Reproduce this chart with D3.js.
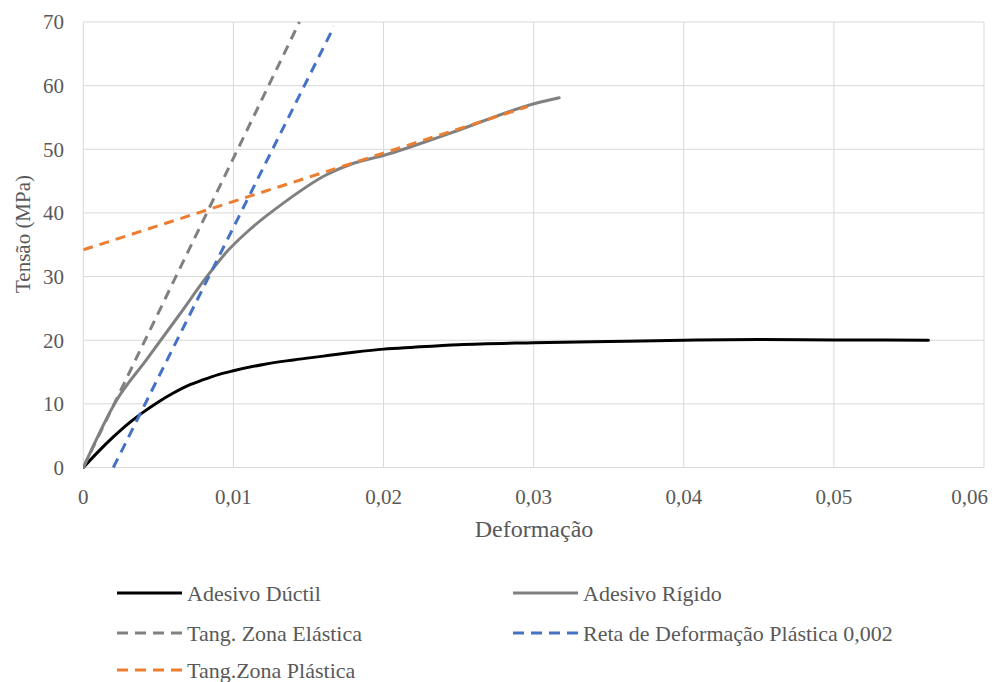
<!DOCTYPE html>
<html>
<head>
<meta charset="utf-8">
<script src="https://cdn.jsdelivr.net/npm/d3@7"></script>
<style>
  body { margin: 0; background: #fff; }
  text { font-family: "Liberation Serif", "Times New Roman", serif; fill: #595959; }
</style>
</head>
<body>
<svg id="chart" width="995" height="682"></svg>
<script>
// strain values (x) and stress values (y, MPa)
const ductileX = [0, 0.001, 0.002, 0.003, 0.004, 0.005, 0.006, 0.007, 0.008, 0.009, 0.010, 0.012, 0.014, 0.016, 0.018, 0.020, 0.022, 0.025, 0.030, 0.035, 0.040, 0.045, 0.050, 0.0563];
const ductileY = [0, 2.5, 4.8, 6.9, 8.7, 10.3, 11.7, 12.9, 13.8, 14.6, 15.2, 16.2, 16.9, 17.5, 18.1, 18.6, 18.9, 19.3, 19.6, 19.8, 20.0, 20.1, 20.05, 20.0];

const rigidX = [0, 0.0022, 0.0042, 0.0064, 0.0082, 0.0096, 0.011, 0.0133, 0.0162, 0.018, 0.0201, 0.0244, 0.0301, 0.0317];
const rigidY = [0, 10.5, 16.9, 24.0, 29.9, 34.0, 37.2, 41.5, 46.0, 47.8, 49.1, 52.5, 57.2, 58.1];

const elasticX = [0, 0.0144];
const elasticY = [0, 70];

const offsetX = [0.002, 0.0167];
const offsetY = [0, 69.3];

const plasticX = [0, 0.0296];
const plasticY = [34.2, 56.7];

const xTicks = [0, 0.01, 0.02, 0.03, 0.04, 0.05, 0.06];
const yTicks = [0, 10, 20, 30, 40, 50, 60, 70];

const series = [
  {name: "Adesivo Dúctil", xs: ductileX, ys: ductileY, color: "#000000", dash: null, smooth: true},
  {name: "Adesivo Rígido", xs: rigidX, ys: rigidY, color: "#808080", dash: null, smooth: true},
  {name: "Tang. Zona Elástica", xs: elasticX, ys: elasticY, color: "#808080", dash: "10,7", smooth: false},
  {name: "Reta de Deformação Plástica 0,002", xs: offsetX, ys: offsetY, color: "#4472c4", dash: "10,7", smooth: false},
  {name: "Tang.Zona Plástica", xs: plasticX, ys: plasticY, color: "#ed7d31", dash: "10,7", smooth: false}
];

const svg = d3.select("#chart");
const plotLeft = 83.3, plotRight = 984, plotTop = 22, plotBottom = 467.5;

const x = d3.scaleLinear().domain([0, 0.06]).range([plotLeft, plotRight]);
const y = d3.scaleLinear().domain([0, 70]).range([plotBottom, plotTop]);
const fmt = d => d3.format(".2~f")(d).replace(".", ",");

// gridlines
svg.append("g")
  .selectAll("line")
  .data(yTicks)
  .join("line")
  .attr("x1", plotLeft).attr("x2", plotRight)
  .attr("y1", d => y(d)).attr("y2", d => y(d))
  .attr("stroke", "#d9d9d9").attr("stroke-width", 1);

svg.append("g")
  .selectAll("line")
  .data(xTicks)
  .join("line")
  .attr("x1", d => x(d)).attr("x2", d => x(d))
  .attr("y1", plotTop).attr("y2", plotBottom)
  .attr("stroke", "#d9d9d9").attr("stroke-width", 1);

// tick labels
svg.append("g")
  .selectAll("text")
  .data(yTicks)
  .join("text")
  .attr("x", 64)
  .attr("y", d => y(d))
  .attr("dy", "0.35em")
  .attr("text-anchor", "end")
  .style("font-size", "21px")
  .text(d => d);

// last label is pushed inside the frame, like the original
svg.append("g")
  .selectAll("text")
  .data(xTicks)
  .join("text")
  .attr("x", (d, i) => i === xTicks.length - 1 ? 988 : x(d))
  .attr("y", 497)
  .attr("dy", "0.35em")
  .attr("text-anchor", (d, i) => i === xTicks.length - 1 ? "end" : "middle")
  .style("font-size", "21px")
  .text(d => fmt(d));

// axis titles
svg.append("text")
  .attr("transform", "translate(23,234) rotate(-90)")
  .attr("dy", "0.35em")
  .attr("text-anchor", "middle")
  .style("font-size", "21px")
  .text("Tensão (MPa)");

svg.append("text")
  .attr("x", 534)
  .attr("y", 529)
  .attr("dy", "0.35em")
  .attr("text-anchor", "middle")
  .style("font-size", "24px")
  .text("Deformação");

// series
svg.append("defs").append("clipPath").attr("id", "plot")
  .append("rect").attr("x", plotLeft).attr("y", plotTop - 2)
  .attr("width", plotRight - plotLeft).attr("height", plotBottom - plotTop + 4);

const plot = svg.append("g").attr("clip-path", "url(#plot)");

series.forEach(s => {
  const pts = s.xs.map((v, i) => [v, s.ys[i]]);
  const line = d3.line()
    .curve(s.smooth ? d3.curveMonotoneX : d3.curveLinear)
    .x(d => x(d[0]))
    .y(d => y(d[1]));
  plot.append("path")
    .attr("d", line(pts))
    .attr("fill", "none")
    .attr("stroke", s.color)
    .attr("stroke-width", 3)
    .attr("stroke-dasharray", s.dash)
    .attr("stroke-linecap", s.dash ? "butt" : "round")
    .attr("stroke-linejoin", "round");
});

// legend
const legendPos = [[117, 593], [513, 593], [117, 633], [513, 633], [117, 670]];
const legend = svg.append("g")
  .selectAll("g")
  .data(series)
  .join("g")
  .attr("transform", (d, i) => `translate(${legendPos[i][0]},${legendPos[i][1]})`);

legend.append("line")
  .attr("x1", 0).attr("x2", 65)
  .attr("stroke", d => d.color)
  .attr("stroke-width", 3)
  .attr("stroke-dasharray", d => d.dash ? "11,7" : null);

legend.append("text")
  .attr("x", 70)
  .attr("dy", "0.35em")
  .style("font-size", "22px")
  .text(d => d.name);
</script>
</body>
</html>
